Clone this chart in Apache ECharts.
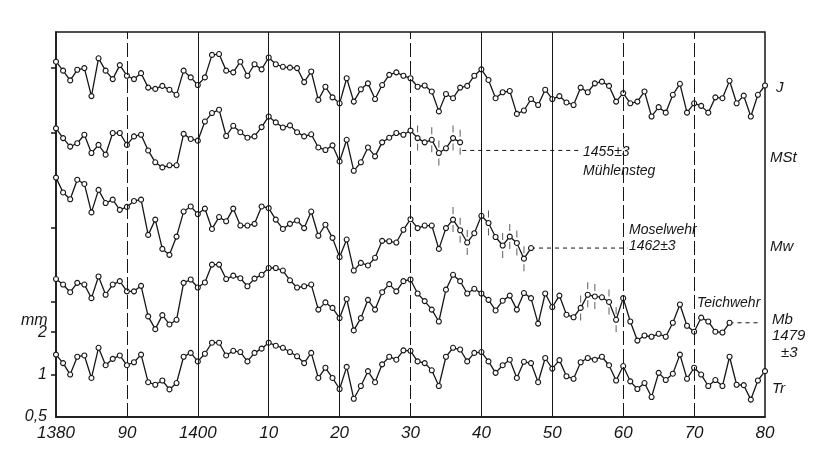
<!DOCTYPE html>
<html>
<head>
<meta charset="utf-8">
<script src="https://cdn.jsdelivr.net/npm/echarts@6/dist/echarts.min.js"></script>
<style>
html,body{margin:0;padding:0;background:#fff;}
#chart{width:835px;height:468px;}
</style>
</head>
<body>
<div id="chart"></div>
<script>
// Ring-width curves, log2(mm) scale positions (Tr baseline: 0 = 1 mm), one value per year from 1380
const startYear = 1380;
const J = [7.37,7.16,6.93,7.18,7.22,6.56,7.45,7.16,6.96,7.29,7.04,6.96,7.10,6.76,6.73,6.80,6.71,6.59,7.16,7.00,
6.82,7.00,7.53,7.55,7.16,7.12,7.37,7.04,7.31,7.19,7.47,7.31,7.25,7.23,7.22,6.89,7.14,6.47,6.78,6.53,
6.39,6.98,6.43,6.72,6.86,6.49,6.82,7.06,7.12,7.04,6.98,6.78,6.81,6.67,6.20,6.61,6.51,6.76,6.80,7.04,
7.19,6.94,6.51,6.65,6.68,6.14,6.22,6.49,6.35,6.71,6.49,6.56,6.41,6.35,6.76,6.65,6.86,6.90,6.80,6.43,
6.63,6.39,6.43,6.67,6.08,6.30,6.17,6.59,6.85,6.17,6.39,6.33,6.17,6.53,6.51,6.92,6.39,6.57,6.08,6.59,6.81];
const MSt = [5.80,5.57,5.37,5.45,5.65,5.22,5.41,5.18,5.69,5.69,5.41,5.61,5.65,5.28,5.00,4.88,4.93,4.93,5.67,5.55,
5.51,5.96,6.16,6.24,5.62,5.86,5.71,5.58,5.61,5.83,6.08,5.94,5.82,5.87,5.71,5.61,5.66,5.35,5.29,5.40,
5.02,5.53,4.80,5.00,5.35,5.14,5.47,5.58,5.69,5.65,5.75,5.57,5.47,5.53,5.22,5.33,5.57,5.47];
const Mw = [4.64,4.29,4.13,4.59,4.49,3.82,4.35,4.04,4.12,3.88,3.95,4.09,4.12,3.29,3.65,2.96,2.82,3.25,3.84,3.96,
3.78,3.91,3.43,3.71,3.61,3.91,3.51,3.51,3.55,3.96,3.92,3.65,3.43,3.55,3.63,3.45,3.84,3.27,3.53,3.22,
2.77,3.18,2.45,2.63,2.57,2.75,3.15,3.14,3.11,3.41,3.66,3.45,3.51,3.51,2.96,3.45,3.65,3.40,3.11,3.33,
3.74,3.57,3.24,3.04,3.25,3.10,2.73,2.98];
const Mb = [2.25,2.12,1.94,2.16,2.12,1.80,2.31,1.88,2.12,2.20,1.96,1.96,2.09,1.37,1.07,1.40,1.18,1.29,2.16,2.24,
2.05,2.17,2.59,2.59,2.25,2.33,2.27,2.08,2.26,2.35,2.51,2.51,2.45,2.22,2.05,2.08,2.12,1.53,1.70,1.57,
1.33,1.78,1.04,1.33,1.76,1.53,1.94,2.13,1.96,2.20,2.24,1.91,1.73,1.53,1.25,2.00,2.35,2.20,1.91,2.02,
1.91,1.76,1.51,1.74,1.86,1.53,1.92,1.80,1.20,1.91,1.59,1.86,1.41,1.35,1.57,1.88,1.84,1.82,1.71,1.29,
1.80,1.25,0.80,0.92,0.89,0.96,0.89,1.22,1.65,1.15,1.01,1.34,1.25,1.01,0.99,1.22];
const Tr = [0.47,0.27,0.00,0.42,0.45,-0.08,0.63,0.22,0.37,0.45,0.22,0.29,0.47,-0.18,-0.24,-0.14,-0.35,-0.20,0.42,0.51,
0.31,0.49,0.75,0.75,0.45,0.56,0.53,0.31,0.51,0.61,0.75,0.68,0.63,0.53,0.43,0.27,0.51,-0.08,0.16,-0.08,
-0.34,0.18,-0.57,-0.27,0.08,-0.18,0.24,0.42,0.35,0.57,0.56,0.31,0.27,0.10,-0.27,0.42,0.63,0.59,0.31,0.51,
0.53,0.31,0.04,0.22,0.35,-0.08,0.30,0.27,-0.18,0.39,0.14,0.34,-0.04,-0.10,0.29,0.39,0.35,0.42,0.22,-0.14,
0.20,-0.16,-0.34,-0.20,-0.53,0.04,-0.13,0.02,0.47,-0.10,0.16,0.00,-0.27,-0.13,-0.27,0.42,-0.24,-0.25,-0.59,-0.14,0.08];

// dating links (dashed) : [year, level]
const mstLink = [[1437.3, 5.28], [1453.7, 5.28]];
const mwLink = [[1447, 2.98], [1460.6, 2.98]];
const mbLink = [[1475, 1.22], [1479.2, 1.22]];

// uncertain-year marks (years)
const mstMarkYears = [1431,1433,1434,1436,1437];
const mwMarkYears = [1436,1437,1438,1441,1443,1444,1445,1446];
const mbMarkYears = [1454,1455,1456,1458,1459];

const xTickLabels = ['1380','90','1400','10','20','30','40','50','60','70','80'];
const yLabelValues = [-1, 0, 1];
const yLabelTexts = ['0,5', '1', '2'];
const yTickValues = [7.22, 5.69, 3.46, 1.72, 1, 0];
const solidGridYears = [1400,1410,1420,1440,1450];
const dashedGridYears = [1390,1430,1460,1470];

const FONT = '"Liberation Sans", "DejaVu Sans", sans-serif';
const INK = '#161616';

function toPts(arr){ return arr.map((v,i)=>[startYear+i, v]); }
function marks(arr, years){ return years.map(y=>[y, arr[y-startYear]]); }

function curve(name, arr){
  return {
    name, type:'line', data: toPts(arr),
    symbol:'circle', symbolSize:5, showSymbol:true,
    lineStyle:{color:INK, width:1.3},
    itemStyle:{color:'#fff', borderColor:INK, borderWidth:1.1},
    z:3, silent:true
  };
}
function link(data){
  return {type:'line', data, symbol:'none', lineStyle:{color:INK, width:1, type:[4,4]}, z:2, silent:true};
}
function tickMarks(data, off){
  return {type:'scatter', data, symbol:'rect', symbolSize:[1,7], symbolOffset:[0,off],
    itemStyle:{color:'#333'}, z:1, silent:true};
}

const gridLines = solidGridYears.map(y=>({xAxis:y, lineStyle:{color:INK, width:1, type:'solid'}}))
  .concat(dashedGridYears.map(y=>({xAxis:y, lineStyle:{color:INK, width:1, type:[14,4]}})));

const trSeries = curve('Tr', Tr);
trSeries.markLine = {silent:true, symbol:['none','none'], label:{show:false}, animation:false, data: gridLines};

const txt = (text, x, y, size) => ({type:'text', x, y, silent:true,
  style:{text, fill:INK, font:'italic '+(size||14)+'px '+FONT, verticalAlign:'middle', align:'left'}});

const option = {
  animation:false,
  backgroundColor:'#fff',
  grid:{left:56, right:70, top:32, bottom:51, show:true, borderColor:INK, borderWidth:1.5},
  xAxis:{type:'value', min:1380, max:1480, interval:10,
    axisLine:{show:true, onZero:false, lineStyle:{color:INK, width:1.5}},
    axisTick:{show:false}, splitLine:{show:false},
    axisLabel:{color:INK, fontFamily:FONT, fontStyle:'italic', fontSize:17, margin:8,
      formatter:(v)=>xTickLabels[Math.round((v-1380)/10)] || ''}},
  yAxis:{type:'value', min:-1, max:8.07,
    axisLine:{show:true, onZero:false, lineStyle:{color:INK, width:1.5}},
    axisTick:{show:true, inside:false, length:5, customValues:yTickValues, lineStyle:{color:INK, width:1.5}},
    axisLabel:{customValues:yLabelValues, color:INK, fontFamily:FONT, fontStyle:'italic', fontSize:16, margin:9,
      formatter:(v)=>{const k=yLabelValues.findIndex(t=>Math.abs(t-v)<1e-6); return k>=0?yLabelTexts[k]:'';}},
    splitLine:{show:false}},
  series:[
    curve('J', J), curve('MSt', MSt), curve('Mw', Mw), curve('Mb', Mb), trSeries,
    link(mstLink), link(mwLink), link(mbLink),
    tickMarks(marks(MSt, mstMarkYears), -9), tickMarks(marks(MSt, mstMarkYears), 9),
    tickMarks(marks(Mw, mwMarkYears), -9), tickMarks(marks(Mw, mwMarkYears), 9),
    tickMarks(marks(Mb, mbMarkYears), -9), tickMarks(marks(Mb, mbMarkYears), 9)
  ],
  graphic:[
    txt('mm', 21, 321, 16),
    txt('1455±3', 583, 152), txt('Mühlensteg', 583, 171),
    txt('Moselwehr', 629, 230), txt('1462±3', 629, 246),
    txt('Teichwehr', 697, 303),
    txt('J', 776, 88, 15), txt('MSt', 770, 158, 15), txt('Mw', 770, 247, 15),
    txt('Mb', 772, 320, 15), txt('1479', 772, 336, 15), txt('±3', 781, 353, 15),
    txt('Tr', 772, 389, 15)
  ]
};

const chart = echarts.init(document.getElementById('chart'), null, {renderer:'canvas'});
chart.setOption(option);
</script>
</body>
</html>
